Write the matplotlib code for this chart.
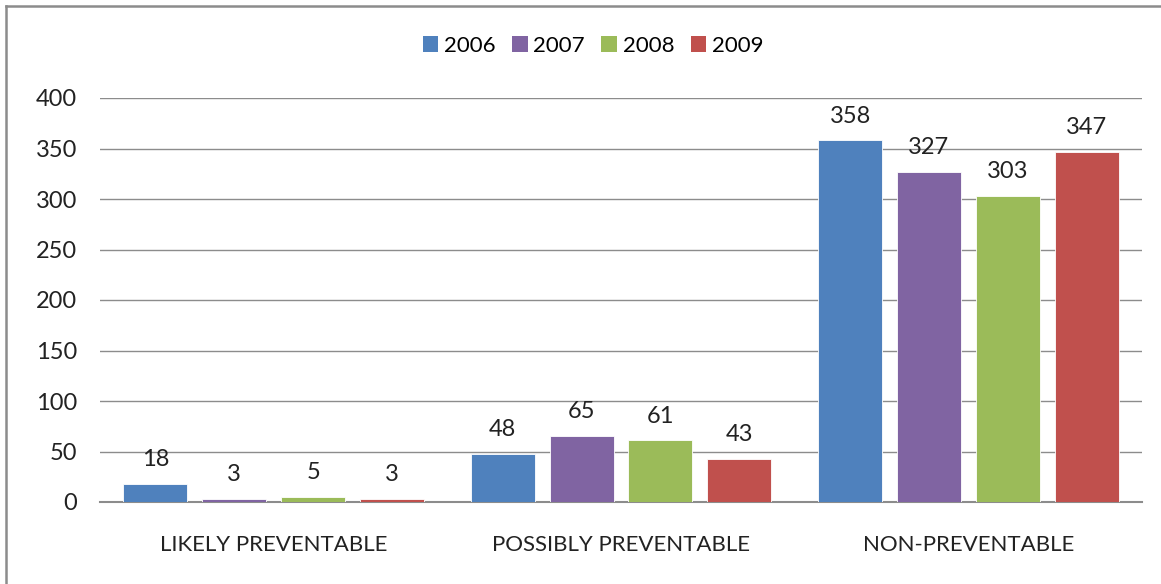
import matplotlib
matplotlib.use("Agg")
import matplotlib.pyplot as plt
from matplotlib.lines import Line2D
from matplotlib.patches import Patch
import numpy as np

categories = ["LIKELY PREVENTABLE", "POSSIBLY PREVENTABLE", "NON-PREVENTABLE"]
years = ["2006", "2007", "2008", "2009"]
values = {
    "2006": [18, 48, 358],
    "2007": [3, 65, 327],
    "2008": [5, 61, 303],
    "2009": [3, 43, 347],
}
colors = ["#4F81BD", "#8064A2", "#9BBB59", "#C0504D"]
yticks = [0, 50, 100, 150, 200, 250, 300, 350, 400]

plt.rcParams['font.family'] = ['Lato', 'DejaVu Sans']

W, H = 1161, 584
fig = plt.figure(figsize=(W / 100, H / 100), dpi=100)
ax = fig.add_axes([100 / W, 1 - 502 / H, 1042 / W, 404 / H])

x = np.arange(len(categories))
bw = 0.184
step = 0.227
for i, yr in enumerate(years):
    off = (i - 1.5) * step
    ax.bar(x + off, values[yr], width=bw, color=colors[i],
           edgecolor="white", linewidth=0.6, zorder=3)
    for xi, v in zip(x + off, values[yr]):
        ax.annotate(str(v), (xi, v), xytext=(0, 10), textcoords="offset points",
                    ha="center", va="bottom", fontsize=17, color="#222222")

ax.set_xlim(-0.5, 2.5)
ax.set_ylim(0, 400)
ax.set_yticks(yticks)
ax.set_yticklabels([str(t) for t in yticks], fontsize=17, color="#222222")
ax.set_xticks(x)
ax.set_xticklabels(categories, fontsize=16, color="#222222")
ax.tick_params(axis="y", length=0, pad=16.5)
ax.tick_params(axis="x", length=0, pad=24)
ax.yaxis.grid(True, color="#8c8c8c", linewidth=1.0, zorder=0)
ax.set_axisbelow(True)
for s in ["top", "right", "left"]:
    ax.spines[s].set_visible(False)
ax.spines["bottom"].set_color("#8c8c8c")
ax.spines["bottom"].set_linewidth(1.5)

handles = [Patch(facecolor=c, edgecolor="none") for c in colors]
fig.legend(handles, years, loc="center", bbox_to_anchor=(593 / W, 1 - 46 / H),
           ncol=4, frameon=False, fontsize=16, handlelength=0.7,
           handleheight=0.7, handletextpad=0.25, columnspacing=0.75)

# outer frame (top and left)
fig.add_artist(Line2D([6 / W, 1], [1 - 6 / H, 1 - 6 / H], color="#8c8c8c",
                      linewidth=1.8, transform=fig.transFigure))
fig.add_artist(Line2D([6 / W, 6 / W], [0, 1 - 6 / H], color="#8c8c8c",
                      linewidth=1.8, transform=fig.transFigure))

fig.savefig("out.png", dpi=100)
